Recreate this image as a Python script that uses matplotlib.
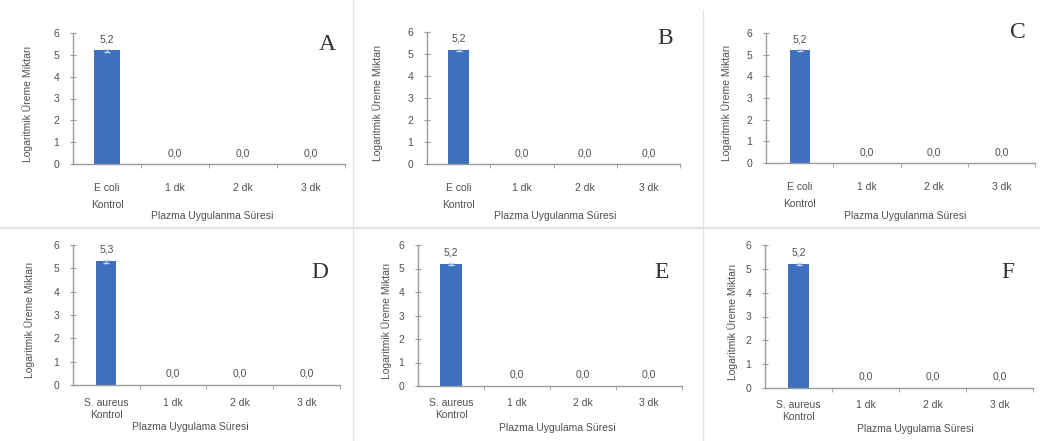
import matplotlib
matplotlib.use("Agg")
import matplotlib.pyplot as plt
from matplotlib.lines import Line2D

# ---- data ----
categories_ecoli = ["E coli\nKontrol", "1 dk", "2 dk", "3 dk"]
categories_saureus = ["S. aureus\nKontrol", "1 dk", "2 dk", "3 dk"]
values_A = [5.2, 0.0, 0.0, 0.0]
values_B = [5.2, 0.0, 0.0, 0.0]
values_C = [5.2, 0.0, 0.0, 0.0]
values_D = [5.3, 0.0, 0.0, 0.0]
values_E = [5.2, 0.0, 0.0, 0.0]
values_F = [5.2, 0.0, 0.0, 0.0]
errors = [0.05, 0.0, 0.0, 0.0]
panel_letters = ["A", "B", "C", "D", "E", "F"]
ylabel = "Logaritmik Üreme Miktarı"
xlabel_top = "Plazma Uygulanma Süresi"
xlabel_bottom = "Plazma Uygulama Süresi"
yticks = [0, 1, 2, 3, 4, 5, 6]

W, H = 1040, 441
fig = plt.figure(figsize=(W / 100, H / 100), dpi=100)
fig.patch.set_facecolor("white")

BAR = "#3F70C0"
TXT = "#505050"
AXC = "#9a9a9a"
FONT = "Liberation Sans"
FS = 7.5

def px_axes(l, r, top, bottom):
    return fig.add_axes([l / W, 1 - bottom / H, (r - l) / W, (bottom - top) / H])

# (left, right, top, bottom, bar width, letter x, letter y, xlabel x, xlabel y, ylabel x, xtick pad, linespacing)
layout = [
    (73, 345, 33, 164, 0.38, 327, 45, 212, 216, 28, 14, 1.85),
    (427, 680, 32, 164, 0.33, 665, 38, 555, 216, 378, 14, 1.85),
    (766, 1035, 33, 163, 0.30, 1018, 32, 905, 216, 727, 14, 1.85),
    (73, 340, 245, 385, 0.30, 320, 272, 190, 427, 30, 9, 1.25),
    (418, 682, 245, 386, 0.32, 662, 273, 557, 428, 387, 9, 1.25),
    (765, 1033, 245, 388, 0.30, 1008, 273, 915, 429, 733, 9, 1.25),
]
all_values = [values_A, values_B, values_C, values_D, values_E, values_F]
all_cats = [categories_ecoli] * 3 + [categories_saureus] * 3
all_xlabels = [xlabel_top] * 3 + [xlabel_bottom] * 3

for i, (l, r, t, b, bw, lx, ly, xlx, xly, ylx, pad, ls) in enumerate(layout):
    ax = px_axes(l, r, t, b)
    vals = all_values[i]
    x = list(range(len(vals)))
    ax.bar(x, vals, width=bw, color=BAR, edgecolor="none", zorder=2)
    ax.errorbar(x[:1], vals[:1], yerr=errors[:1], fmt="none", ecolor="#c8d6ee",
                elinewidth=0.8, capsize=2, zorder=3)
    for xi, v in zip(x, vals):
        ax.text(xi, v + 0.5, f"{v:.1f}".replace(".", ","), ha="center", va="center",
                fontsize=FS, color=TXT, family=FONT)
    ax.set_xlim(-0.5, 3.5)
    ax.set_ylim(0, 6)
    ax.set_yticks(yticks)
    ax.set_yticklabels([str(v) for v in yticks], fontsize=FS, color=TXT, family=FONT)
    ax.set_xticks(x)
    ax.set_xticklabels(all_cats[i], fontsize=FS, color=TXT, family=FONT, linespacing=ls)
    ax.set_xticks([0.5, 1.5, 2.5, 3.5], minor=True)
    ax.tick_params(axis="x", which="major", length=0, pad=pad)
    ax.tick_params(axis="x", which="minor", length=3, color=AXC, direction="out")
    ax.tick_params(axis="y", length=4, direction="inout", color=AXC, pad=8)
    for s in ["top", "right"]:
        ax.spines[s].set_visible(False)
    for s in ["left", "bottom"]:
        ax.spines[s].set_color(AXC)
        ax.spines[s].set_linewidth(1.0)
    ax.set_facecolor("none")
    fig.text(lx / W, 1 - ly / H, panel_letters[i], fontsize=17, family="Liberation Serif",
             color="#333333", ha="center", va="center")
    fig.text(xlx / W, 1 - xly / H, all_xlabels[i], fontsize=FS, color=TXT, family=FONT,
             ha="center", va="center")
    fig.text(ylx / W, 1 - ((t + b) / 2 + 5) / H, ylabel, fontsize=FS, color=TXT, family=FONT,
             ha="center", va="center", rotation=90)

# panel separators
SEP = "#e2e2e2"
fig.add_artist(Line2D([353 / W, 353 / W], [0, 1], color=SEP, lw=1, transform=fig.transFigure))
fig.add_artist(Line2D([703 / W, 703 / W], [0, 1 - 10 / H], color=SEP, lw=1, transform=fig.transFigure))
fig.add_artist(Line2D([0, 1], [1 - 228 / H, 1 - 228 / H], color=SEP, lw=1.5, transform=fig.transFigure))

fig.savefig("out.png", dpi=100, facecolor="white")
